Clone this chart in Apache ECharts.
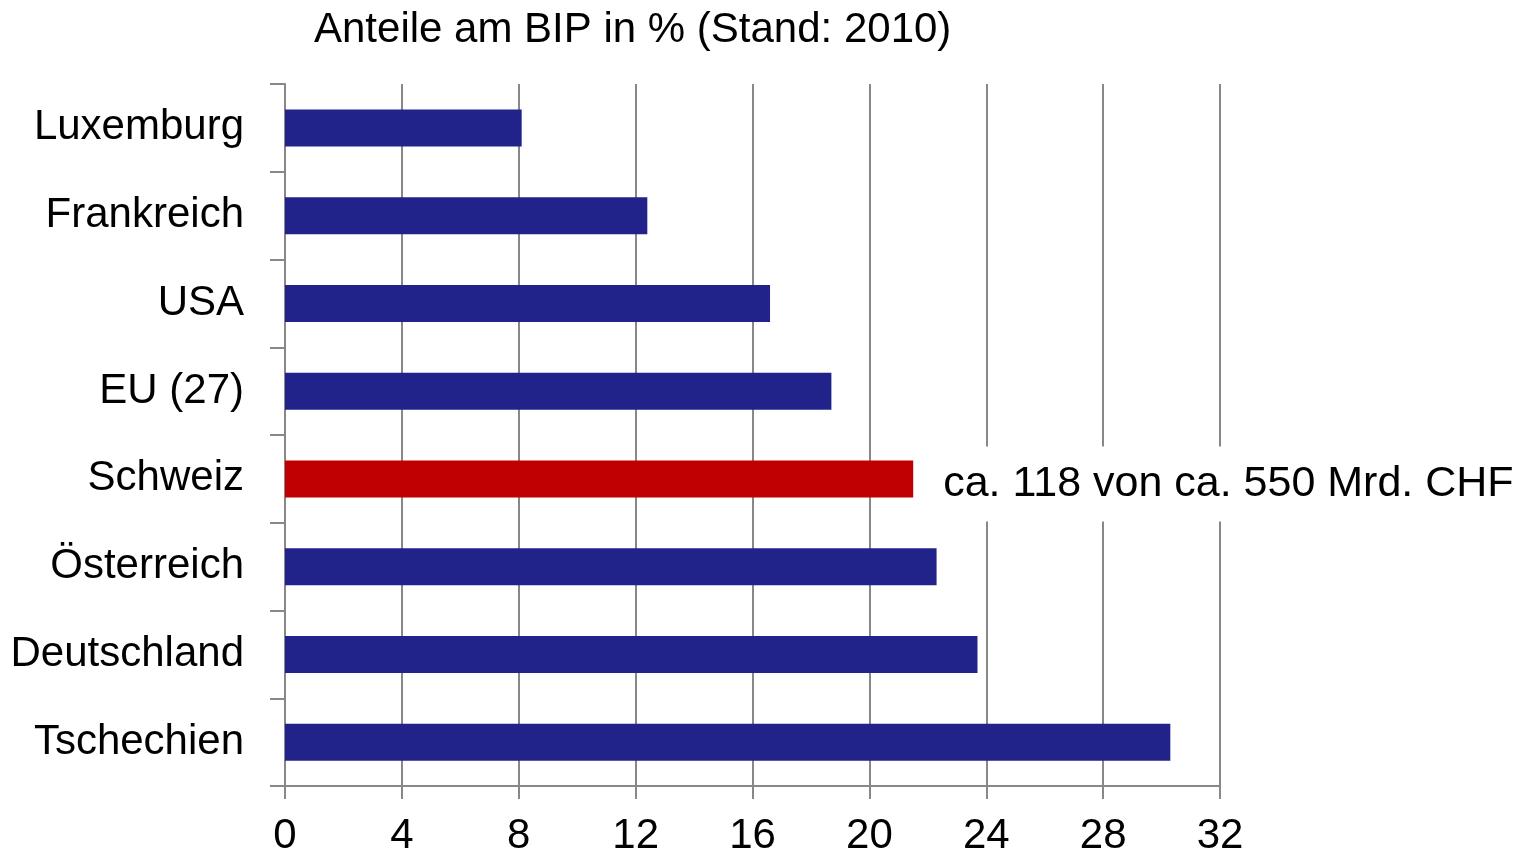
<!DOCTYPE html>
<html>
<head>
<meta charset="utf-8">
<script src="https://cdn.jsdelivr.net/npm/echarts@6/dist/echarts.min.js"></script>
<style>
  html, body { margin: 0; padding: 0; background: #fff; }
  #chart { width: 1520px; height: 858px; }
</style>
</head>
<body>
<div id="chart"></div>
<script>
"use strict";
const categories = ['Luxemburg', 'Frankreich', 'USA', 'EU (27)', 'Schweiz', 'Österreich', 'Deutschland', 'Tschechien'];
const values = [8.1, 12.4, 16.6, 18.7, 21.5, 22.3, 23.7, 30.3];
const xTicks = [0, 4, 8, 12, 16, 20, 24, 28, 32];
const highlight = 'Schweiz';
const highlightNote = 'ca. 118 von ca. 550 Mrd. CHF';
const titleText = 'Anteile am BIP in % (Stand: 2010)';

const blue = '#21238a';
const red = '#c00000';
const gridGrey = '#888888';
const font = 'Liberation Sans, Arial, sans-serif';

let chart = echarts.init(document.getElementById('chart'));

// Schweiz bekommt rote Farbe und die Anmerkung rechts daneben
let seriesData = categories.map(function (name, i) {
    let item = { value: values[i], itemStyle: { color: name === highlight ? red : blue } };
    if (name === highlight) {
        item.label = {
            show: true,
            position: 'right',
            distance: 24,
            offset: [0, 5],
            formatter: highlightNote,
            color: '#000',
            fontFamily: font,
            fontSize: 43,
            backgroundColor: '#fff',
            padding: [16, 6, 16, 6]
        };
    }
    return item;
});

chart.setOption({
    animation: false,
    backgroundColor: '#fff',
    title: {
        text: titleText,
        left: 309,
        top: 4,
        textStyle: { fontFamily: font, fontSize: 42, fontWeight: 'normal', color: '#000' }
    },
    grid: { left: 285, right: 300, top: 84, bottom: 72 },
    xAxis: {
        type: 'value',
        min: xTicks[0],
        max: xTicks[xTicks.length - 1],
        interval: 4,
        axisLine: { show: true, lineStyle: { color: gridGrey, width: 2 } },
        axisTick: { show: true, length: 13, lineStyle: { color: gridGrey, width: 2 } },
        axisLabel: { color: '#000', fontFamily: font, fontSize: 42, margin: 29 },
        splitLine: { show: true, lineStyle: { color: gridGrey, width: 2 } }
    },
    yAxis: {
        type: 'category',
        inverse: true,
        data: categories,
        axisLine: { show: true, lineStyle: { color: gridGrey, width: 2 } },
        axisTick: { show: true, length: 15, lineStyle: { color: gridGrey, width: 2 } },
        axisLabel: { color: '#000', fontFamily: font, fontSize: 42, margin: 41 }
    },
    series: [{
        type: 'bar',
        data: seriesData,
        barWidth: 37
    }]
});
</script>
</body>
</html>
